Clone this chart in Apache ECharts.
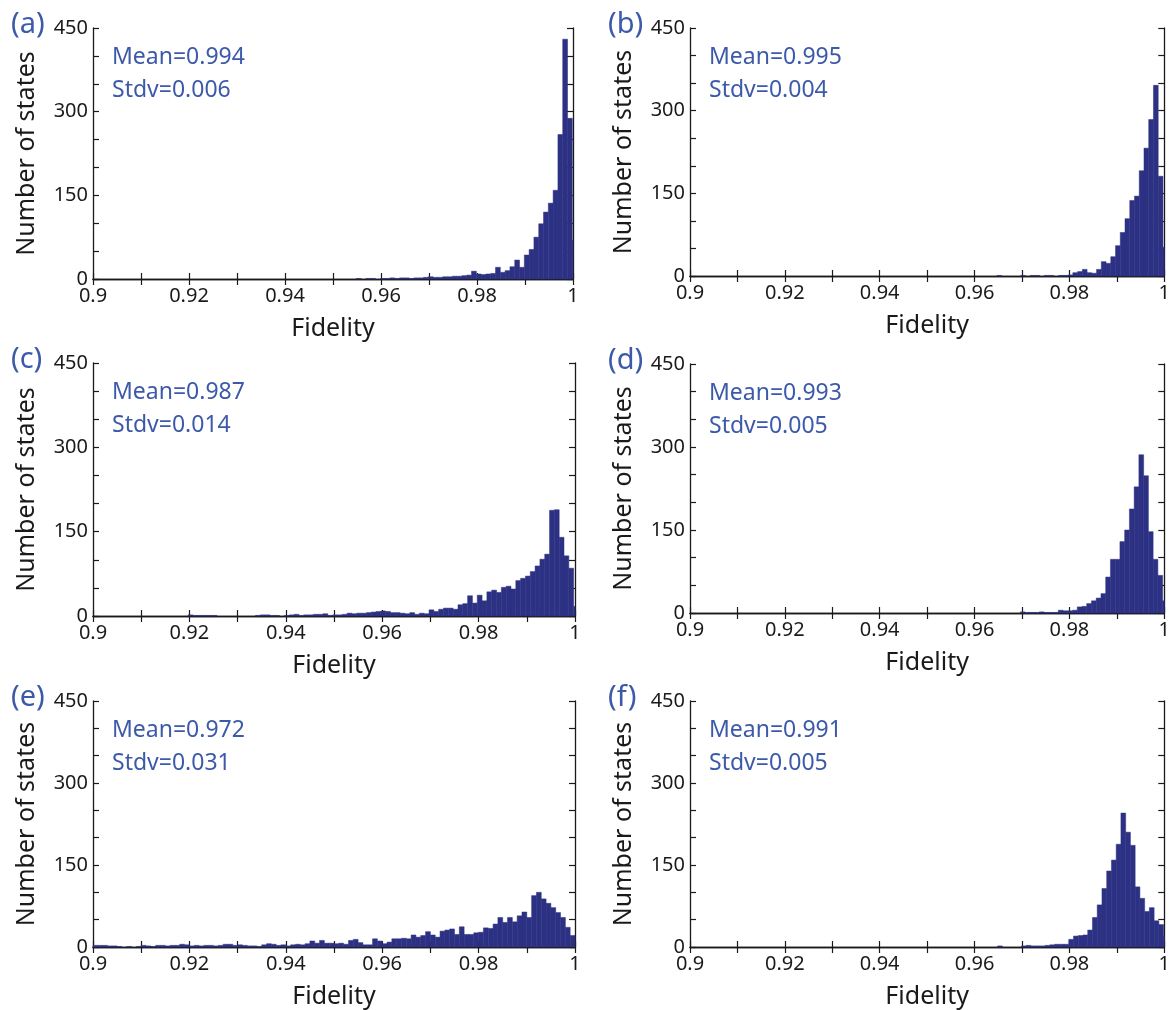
<!DOCTYPE html>
<html>
<head>
<meta charset="utf-8">
<script src="https://cdn.jsdelivr.net/npm/echarts@6/dist/echarts.min.js"></script>
<style>
html,body{margin:0;padding:0;background:#fff;}
#chart{width:1173px;height:1010px;}
</style>
</head>
<body>
<div id="chart"></div>
<script>
// ---------- DATA ----------
// Histogram counts, bin i spans [0.900 + i*0.001 + offset, +0.001]
const panelLetters = ['(a)', '(b)', '(c)', '(d)', '(e)', '(f)'];
const meanLabels = ['Mean=0.994', 'Mean=0.995', 'Mean=0.987', 'Mean=0.993', 'Mean=0.972', 'Mean=0.991'];
const stdvLabels = ['Stdv=0.006', 'Stdv=0.004', 'Stdv=0.014', 'Stdv=0.005', 'Stdv=0.031', 'Stdv=0.005'];
const binOffsets = [-0.00014, -0.00028, -0.00028, -0.00035, 0, -0.00014];
const xTickValues = [0.9, 0.92, 0.94, 0.96, 0.98, 1];
const yTickValues = [0, 150, 300, 450];

const countsA = [
  0,0,0,0,0,0,0,0,0,0,
  0,0,0,0,0,0,0,0,0,0,
  0,0,0,0,0,0,0,0,0,0,
  0,0,0,0,0,0,0,0,0,0,
  0,0,0,0,0,0,0,0,0,0,
  0,0,0,0,0,1,0,1,1,0,
  1,1,2,1,2,2,1,2,2,3,
  4,3,3,4,4,5,5,6,7,14,
  9,8,9,10,21,12,15,22,34,21,
  43,53,75,99,120,136,159,259,430,288,
  69
];
const countsB = [
  0,0,0,0,0,0,0,0,0,0,
  0,0,0,0,0,0,0,0,0,0,
  0,0,0,0,0,0,0,0,0,0,
  0,0,0,0,0,0,0,0,0,0,
  0,0,0,0,0,0,0,0,0,0,
  0,0,0,0,0,0,0,0,0,0,
  0,0,0,0,0,1,0,0,0,0,
  1,0,1,1,0,1,1,0,1,1,
  2,6,8,12,6,5,12,26,23,35,
  55,79,104,137,145,191,232,284,346,181,
  52
];
const countsC = [
  0,0,0,0,0,0,0,0,0,0,
  0,0,0,0,0,0,0,0,0,0,
  2,1,1,1,1,1,0,0,0,0,
  0,0,0,0,1,2,2,1,1,0,
  1,2,3,1,2,2,3,3,4,1,
  2,2,3,5,4,5,5,6,7,8,
  9,8,6,6,5,4,6,3,5,4,
  11,8,12,14,14,12,20,22,36,23,
  37,27,43,46,42,51,53,48,63,67,
  71,79,89,101,110,188,189,140,107,85,
  17
];
const countsD = [
  0,0,0,0,0,0,0,0,0,0,
  0,0,0,0,0,0,0,0,0,0,
  0,0,0,0,0,0,0,0,0,0,
  0,0,0,0,0,0,0,0,0,0,
  0,0,0,0,0,0,0,0,0,0,
  0,0,0,0,0,0,0,0,0,0,
  0,0,0,0,0,0,0,0,0,0,
  2,1,1,1,2,1,1,1,5,4,
  4,5,11,12,17,22,27,35,65,97,
  97,129,150,188,228,286,248,147,97,68,
  22
];
const countsE = [
  3,3,3,2,2,1,0,1,0,1,
  3,2,1,3,3,2,3,3,5,4,
  2,3,2,3,3,2,3,5,5,3,
  4,3,2,2,1,4,6,5,3,4,
  2,4,5,4,6,11,7,12,7,7,
  6,7,5,12,14,8,4,4,15,11,
  6,9,15,15,16,15,22,18,21,28,
  22,18,29,31,33,23,37,23,23,26,
  27,35,34,42,54,45,54,46,57,64,
  54,94,100,88,80,72,63,54,36,21,
  0
];
const countsF = [
  0,0,0,0,0,0,0,0,0,0,
  0,0,0,0,0,0,0,0,0,0,
  0,0,0,0,0,0,0,0,0,0,
  0,0,0,0,0,0,0,0,0,0,
  0,0,0,0,0,0,0,0,0,0,
  0,0,0,0,0,0,0,0,0,0,
  0,0,0,0,0,2,0,0,0,0,
  2,3,2,2,2,3,4,5,5,5,
  14,20,21,22,31,54,77,107,139,159,
  188,245,210,186,110,89,65,72,48,41,
  20
];
const allCounts = [countsA, countsB, countsC, countsD, countsE, countsF];

// ---------- LAYOUT ----------
const grids = [
  {left: 93,  top: 28,  width: 480, height: 251},
  {left: 690, top: 28,  width: 478, height: 248},
  {left: 93,  top: 363, width: 482, height: 253},
  {left: 690, top: 364, width: 479, height: 249},
  {left: 93,  top: 701, width: 482, height: 251},
  {left: 690, top: 701, width: 477, height: 248}
];
const BAR = '#2c3183';
const BLUE = '#3c5aa9';
const INK = '#1a1a1a';
const FONT = 'Noto Sans';

const chart = echarts.init(document.getElementById('chart'), null, {renderer: 'canvas'});

function fmtX(v) {
  const r = Math.round(v * 100);
  if (r % 2 !== 0) return '';
  return String(+(r / 100).toFixed(2));
}
function fmtY(v) {
  return yTickValues.indexOf(Math.round(v)) >= 0 ? String(Math.round(v)) : '';
}

function renderItem(params, api) {
  const x0 = api.value(0), x1 = api.value(1), c = api.value(2);
  if (!(c > 0)) return;
  const p0 = api.coord([x0, 0]);
  const p1 = api.coord([x1, c]);
  const cs = params.coordSys;
  const l = Math.max(p0[0], cs.x);
  const r = Math.min(p1[0], cs.x + cs.width);
  if (r <= l) return;
  return {
    type: 'rect',
    shape: {x: l, y: p1[1], width: r - l, height: p0[1] - p1[1]},
    style: {fill: BAR, stroke: BAR, lineWidth: 0.5}
  };
}

const gridOpt = [], xAxes = [], yAxes = [], series = [], graphics = [];
const axisLine = {show: true, lineStyle: {color: INK, width: 1.3}};

grids.forEach((g, i) => {
  gridOpt.push({left: g.left, top: g.top, width: g.width, height: g.height, containLabel: false, show: false});
  // bottom x
  xAxes.push({
    type: 'value', gridIndex: i, position: 'bottom', min: 0.9, max: 1, interval: 0.01,
    axisLine: axisLine,
    axisTick: {show: true, inside: true, length: 6, lineStyle: {color: INK, width: 1.2}},
    axisLabel: {show: true, formatter: fmtX, margin: 7, color: INK, fontSize: 20, fontFamily: FONT,
                showMinLabel: true, showMaxLabel: true, hideOverlap: false},
    splitLine: {show: false},
    name: 'Fidelity', nameLocation: 'middle', nameGap: 37,
    nameTextStyle: {color: INK, fontSize: 25, fontFamily: FONT}
  });
  // top x (box)
  xAxes.push({
    type: 'value', gridIndex: i, position: 'top', min: 0.9, max: 1, interval: 0.01,
    axisLine: axisLine,
    axisTick: {show: true, inside: true, length: 6, lineStyle: {color: INK, width: 1.2}},
    axisLabel: {show: false}, splitLine: {show: false}
  });
  // left y
  yAxes.push({
    type: 'value', gridIndex: i, position: 'left', min: 0, max: 450, interval: 50,
    axisLine: axisLine,
    axisTick: {show: true, inside: true, length: 6, lineStyle: {color: INK, width: 1.2}},
    axisLabel: {show: true, formatter: fmtY, margin: 5, color: INK, fontSize: 20, fontFamily: FONT,
                showMinLabel: true, showMaxLabel: true, hideOverlap: false},
    splitLine: {show: false},
    name: 'Number of states', nameLocation: 'middle', nameGap: 54,
    nameTextStyle: {color: INK, fontSize: 25, fontFamily: FONT}
  });
  // right y (box)
  yAxes.push({
    type: 'value', gridIndex: i, position: 'right', min: 0, max: 450, interval: 50,
    axisLine: axisLine,
    axisTick: {show: true, inside: true, length: 6, lineStyle: {color: INK, width: 1.2}},
    axisLabel: {show: false}, splitLine: {show: false}
  });

  const counts = allCounts[i];
  const data = [];
  for (let k = 0; k < counts.length; k++) {
    const x0 = 0.9 + k * 0.001 + binOffsets[i];
    data.push([x0, x0 + 0.001, counts[k]]);
  }
  series.push({
    type: 'custom', xAxisIndex: 2 * i, yAxisIndex: 2 * i, renderItem: renderItem,
    encode: {x: [0, 1], y: 2}, data: data, silent: true, z: 1
  });

  graphics.push({
    type: 'text', left: g.left - 82, top: g.top - 18,
    style: {text: panelLetters[i], fill: BLUE, font: '29px "' + FONT + '"'}
  });
  graphics.push({
    type: 'text', left: g.left + 19, top: g.top + 18,
    style: {text: meanLabels[i], fill: BLUE, font: '23px "' + FONT + '"'}
  });
  graphics.push({
    type: 'text', left: g.left + 19, top: g.top + 51,
    style: {text: stdvLabels[i], fill: BLUE, font: '23px "' + FONT + '"'}
  });
});

chart.setOption({
  animation: false,
  backgroundColor: '#ffffff',
  grid: gridOpt,
  xAxis: xAxes,
  yAxis: yAxes,
  series: series,
  graphic: graphics
});
</script>
</body>
</html>
